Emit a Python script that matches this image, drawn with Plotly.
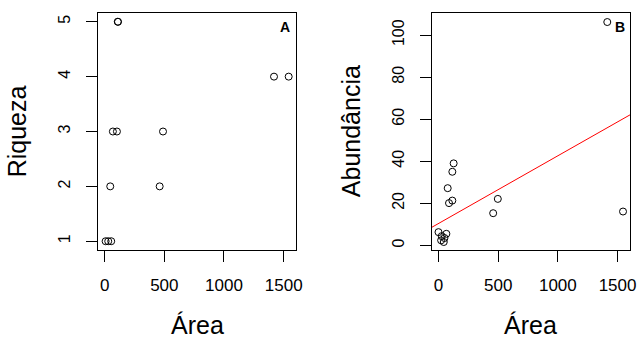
import plotly.graph_objects as go

# Panel A: Riqueza vs Área
area_a = [110, 112, 1419, 1542, 69, 103, 489, 47, 461, 8, 30, 55]
riqueza = [5, 5, 4, 4, 3, 3, 3, 2, 2, 1, 1, 1]

# Panel B: Abundância vs Área
area_b = [1414, 1546, 458, 497, 127, 116, 77, 116, 88, 0, 66, 27, 50, 22, 44]
abundancia = [106.2, 16.1, 15.3, 22.1, 39, 35, 27.2, 21.3, 20.1, 6.3, 5.5, 4.4, 3.5, 2.4, 1.6]

# regression line
fit_intercept = 10.4
fit_slope = 0.0322
fit_x = [-100, 1700]

x_ticks = [0, 500, 1000, 1500]
ya_ticks = [1, 2, 3, 4, 5]
yb_ticks = [0, 20, 40, 60, 80, 100]

W, H = 643, 338
FONT = "Liberation Sans, Arial, sans-serif"

def px(x):
    return x / W

def py(y):
    return 1 - y / H

fig = go.Figure()
fig.add_trace(go.Scatter(x=area_a, y=riqueza, mode="markers", xaxis="x", yaxis="y",
                         marker=dict(symbol="circle-open", size=7, color="black",
                                     line=dict(width=1, color="black")),
                         showlegend=False))
fig.add_trace(go.Scatter(x=area_b, y=abundancia, mode="markers", xaxis="x2", yaxis="y2",
                         marker=dict(symbol="circle-open", size=7, color="black",
                                     line=dict(width=1, color="black")),
                         showlegend=False))
fig.add_trace(go.Scatter(x=fit_x, y=[fit_intercept + fit_slope * v for v in fit_x],
                         mode="lines", xaxis="x2", yaxis="y2",
                         line=dict(color="red", width=1), showlegend=False))

axis_common = dict(showline=True, mirror=True, linecolor="black", linewidth=1,
                   ticks="outside", ticklen=11, tickcolor="black", tickwidth=1,
                   showgrid=False, zeroline=False)
xfont = dict(family=FONT, size=17, color="black")
yfont = dict(family=FONT, size=16, color="black")

ydom = [py(250), py(13)]
fig.update_layout(
    width=W, height=H, margin=dict(l=0, r=0, t=0, b=0),
    paper_bgcolor="white", plot_bgcolor="white",
    xaxis=dict(domain=[px(99), px(299)], range=[-55, 1605], tickvals=x_ticks,
               tickfont=xfont, anchor="y", ticklabelstandoff=9, **axis_common),
    yaxis=dict(domain=ydom, range=[0.84, 5.16], tickvals=ya_ticks, tickangle=-90,
               tickfont=yfont, anchor="x", ticklabelstandoff=10, **axis_common),
    xaxis2=dict(domain=[px(436), px(636)], range=[-55, 1605], tickvals=x_ticks,
                tickfont=xfont, anchor="y2", ticklabelstandoff=9, **axis_common),
    yaxis2=dict(domain=ydom, range=[-2.2, 110.5], tickvals=yb_ticks, tickangle=-90,
                tickfont=yfont, anchor="x2", ticklabelstandoff=10, **axis_common),
)

title_font = dict(family=FONT, size=25, color="black")
ann = [
    dict(text="Área", x=px(199), y=py(325), xanchor="center", yanchor="middle", font=title_font),
    dict(text="Área", x=px(536), y=py(325), xanchor="center", yanchor="middle", font=title_font),
    dict(text="Riqueza", x=px(18), y=py(131.5), xanchor="center", yanchor="middle",
         textangle=-90, font=title_font),
    dict(text="Abundância", x=px(355), y=py(131.5), xanchor="center", yanchor="middle",
         textangle=-90, font=title_font),
    dict(text="<b>A</b>", x=px(288), y=py(27), xanchor="center", yanchor="middle",
         font=dict(family=FONT, size=14, color="black")),
    dict(text="<b>B</b>", x=px(626), y=py(27), xanchor="center", yanchor="middle",
         font=dict(family=FONT, size=14, color="black")),
]
for a in ann:
    a.update(xref="paper", yref="paper", showarrow=False)
fig.update_layout(annotations=ann)

fig.write_html("out.html", config={"displayModeBar": False},
               post_script="document.body.style.margin='0';document.body.style.padding='0';")
